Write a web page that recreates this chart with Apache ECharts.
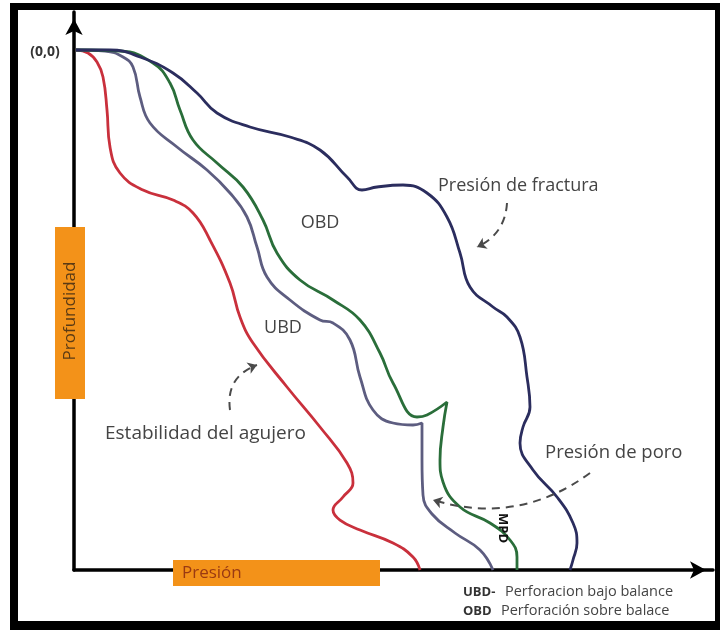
<!DOCTYPE html>
<html>
<head>
<meta charset="utf-8">
<script src="https://cdn.jsdelivr.net/npm/echarts@6/dist/echarts.min.js"></script>
<style>
  html, body { margin: 0; padding: 0; background: #fff; }
  #chart { width: 720px; height: 630px; }
</style>
</head>
<body>
<div id="chart"></div>
<script>
// presión (x) vs profundidad (y, hacia abajo), unidades arbitrarias
const estabilidad = [
  [0, 0], [12, 3], [21, 12], [27, 27], [31, 60], [34, 97], [44, 123], [67, 140],
  [97, 150], [117, 163], [134, 190], [154, 233], [164, 267], [177, 293], [211, 337],
  [244, 377], [271, 413], [277, 433], [267, 447], [257, 460], [264, 470], [284, 480],
  [317, 493], [337, 507], [344, 520]
];
const poro = [
  [0, 0], [29, 1], [47, 7], [57, 17], [64, 47], [74, 73], [101, 97], [131, 120],
  [154, 143], [171, 167], [181, 197], [191, 227], [214, 250], [244, 270], [257, 273],
  [274, 290], [284, 327], [297, 360], [317, 373], [337, 375], [346, 373], [346, 410],
  [347, 445], [356, 464], [379, 483], [404, 500], [417, 520]
];
const mpd = [
  [0, 0], [44, 1], [77, 13], [94, 33], [104, 60], [117, 90], [141, 113], [167, 137],
  [187, 170], [201, 203], [224, 230], [257, 250], [284, 270], [304, 303], [317, 333],
  [341, 367], [351, 365], [371, 352], [367, 377], [364, 410], [367, 432], [384, 457],
  [414, 473], [434, 490], [441, 507], [441, 520]
];
const fractura = [
  [0, 0], [34, 0], [64, 7], [97, 23], [121, 43], [141, 63], [174, 77], [214, 87],
  [244, 100], [271, 127], [286, 140], [301, 137], [327, 135], [351, 143], [371, 167],
  [384, 203], [394, 237], [417, 257], [431, 267], [444, 287], [451, 327], [454, 357],
  [447, 377], [444, 393], [457, 420], [481, 447], [497, 473], [501, 493], [497, 510],
  [494, 520]
];
// flechas punteadas: [desde, hasta, curvatura]
const flechas = [
  [[431, 153], [401, 197], 0.3],
  [[154, 360], [181, 315], 0.4],
  [[514, 423], [357, 450], 0.25]
];

const chart = echarts.init(document.getElementById('chart'));

function curve(name, data, color) {
  return {
    name: name,
    type: 'line',
    data: data,
    smooth: 0.45,
    symbol: 'none',
    lineStyle: { color: color, width: 2.8 },
    z: 3
  };
}

const FONT = '"Open Sans", sans-serif';

function label(text, x, y, size, opts) {
  return Object.assign({
    type: 'text',
    x: x,
    y: y,
    z: 110,
    style: {
      text: text,
      font: (opts && opts.weight ? opts.weight + ' ' : '') + size + 'px ' + FONT,
      fill: (opts && opts.fill) || '#444',
      textAlign: (opts && opts.align) || 'left',
      textVerticalAlign: 'middle'
    }
  }, opts && opts.rotation !== undefined ? { rotation: opts.rotation } : {});
}

const option = {
  backgroundColor: '#fff',
  animation: false,
  grid: { left: 74, right: 7, top: 12, bottom: 60 },
  xAxis: {
    type: 'value',
    min: -2,
    max: 637,
    axisLine: {
      onZero: false,
      symbol: ['none', 'arrow'],
      symbolSize: [13, 16],
      symbolOffset: [0, -7],
      lineStyle: { color: '#000', width: 3.5 }
    },
    axisTick: { show: false },
    axisLabel: { show: false },
    splitLine: { show: false }
  },
  yAxis: {
    type: 'value',
    inverse: true,
    min: -38,
    max: 520,
    axisLine: {
      onZero: false,
      symbol: ['none', 'arrow'],
      symbolSize: [13, 16],
      symbolOffset: [0, -7],
      lineStyle: { color: '#000', width: 3.5 }
    },
    axisTick: { show: false },
    axisLabel: { show: false },
    splitLine: { show: false }
  },
  series: [
    curve('Estabilidad del agujero', estabilidad, '#c9303c'),
    curve('Presión de poro', poro, '#5d5d80'),
    curve('MPD', mpd, '#2a6e3a'),
    curve('Presión de fractura', fractura, '#2b2d5e'),
    {
      type: 'lines',
      coordinateSystem: 'cartesian2d',
      symbol: ['none', 'arrow'],
      symbolSize: 9,
      lineStyle: { color: '#4a4a4a', width: 2, opacity: 1, type: [8, 6] },
      data: flechas.map(f => ({ coords: [f[0], f[1]], lineStyle: { curveness: f[2] } })),
      z: 4
    }
  ],
  graphic: [
    // marco
    { type: 'rect', shape: { x: 10, y: 3, width: 8, height: 627 }, style: { fill: '#000' }, z: 120 },
    { type: 'rect', shape: { x: 10, y: 3, width: 710, height: 7 }, style: { fill: '#000' }, z: 120 },
    { type: 'rect', shape: { x: 715, y: 3, width: 5, height: 627 }, style: { fill: '#000' }, z: 120 },
    { type: 'rect', shape: { x: 10, y: 621, width: 710, height: 9 }, style: { fill: '#000' }, z: 120 },
    // cajas naranjas de los ejes
    { type: 'rect', shape: { x: 55, y: 227, width: 30, height: 172 }, style: { fill: '#f39219' }, z: 100 },
    { type: 'rect', shape: { x: 173, y: 560, width: 207, height: 26 }, style: { fill: '#f39219' }, z: 100 },
    label('Profundidad', 70, 311, 17, { fill: '#5a3a14', align: 'center', rotation: Math.PI / 2 }),
    label('Presión', 182, 573, 17, { fill: '#9a3a12' }),
    label('(0,0)', 45, 52, 14, { weight: 'bold', fill: '#333', align: 'center' }),
    label('OBD', 320, 223, 18, { align: 'center' }),
    label('UBD', 283, 328, 18, { align: 'center' }),
    label('Presión de fractura', 438, 186, 18),
    label('Estabilidad del agujero', 105, 434, 19),
    label('Presión de poro', 545, 453, 18.5),
    label('MPD', 503, 528, 13, { weight: 'bold', fill: '#111', align: 'center', rotation: -Math.PI / 2 }),
    label('UBD-', 463, 592, 13, { weight: 'bold', fill: '#333' }),
    label('Perforacion bajo balance', 505, 592, 14.5, { fill: '#444' }),
    label('OBD', 463, 611, 13, { weight: 'bold', fill: '#333' }),
    label('Perforación sobre balace', 501, 611, 14.5, { fill: '#444' })
  ]
};

chart.setOption(option);
</script>
</body>
</html>
